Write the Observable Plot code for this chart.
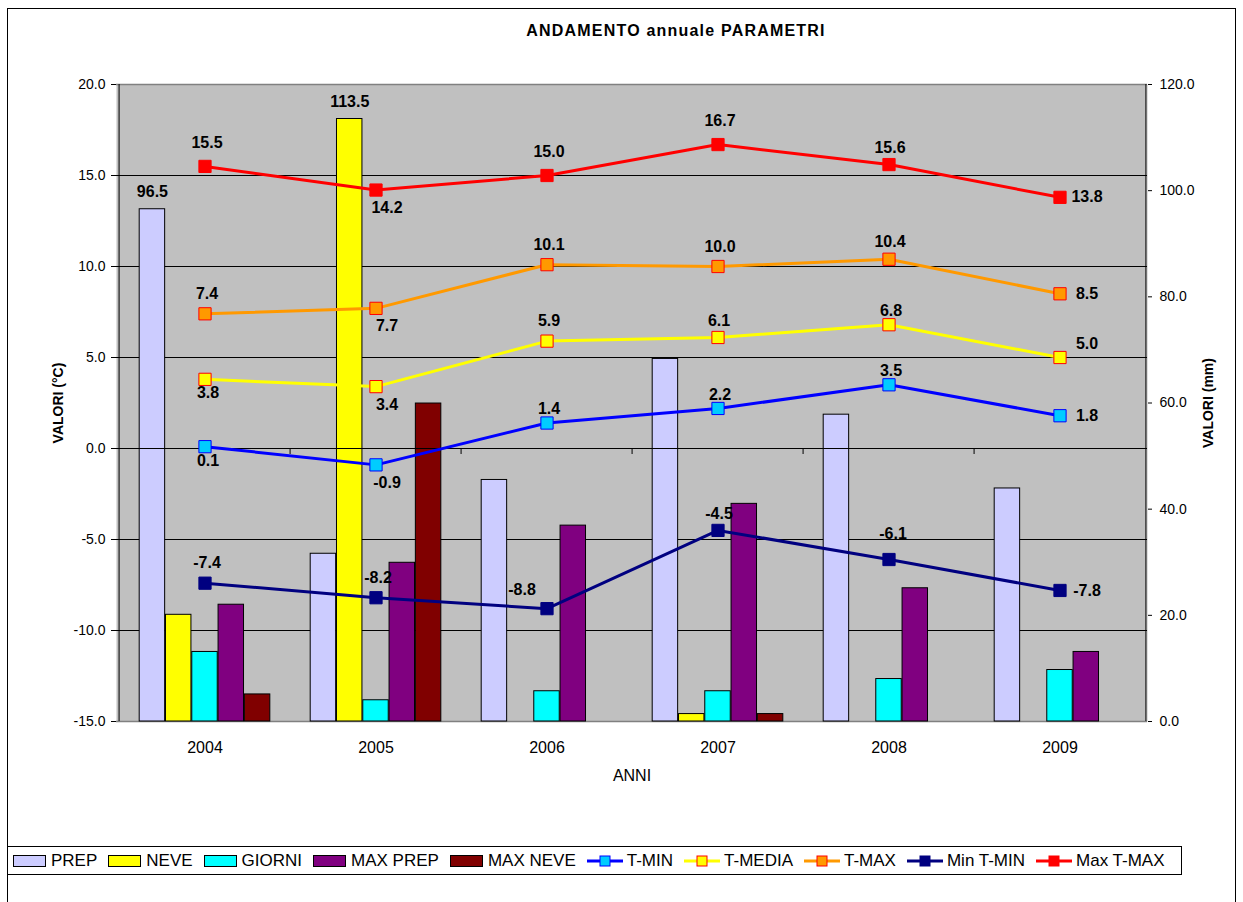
<!DOCTYPE html>
<html>
<head>
<meta charset="utf-8">
<script src="https://cdn.jsdelivr.net/npm/d3@7"></script>
<script src="https://cdn.jsdelivr.net/npm/@observablehq/plot@0.6"></script>
<style>
html, body { margin:0; padding:0; width:1243px; height:902px; overflow:hidden; background:#fff;
  font-family:"Liberation Sans", Arial, sans-serif; color:#000; }
#border { position:absolute; left:7px; top:8px; width:1227px; height:920px; border:1px solid #000; }
#title { position:absolute; left:476px; width:400px; top:21px; text-align:center; font-weight:bold;
  font-size:16px; letter-spacing:1.2px; line-height:20px; }
#chart { position:absolute; left:0; top:50px; }
#legend { position:absolute; left:7px; top:846px; width:1175px; height:29px; border:1px solid #000;
  box-sizing:border-box; display:flex; align-items:center; padding-left:5px; font-size:17px; white-space:nowrap; }
.item { display:flex; align-items:center; margin-right:11px; }
.sw { width:31px; height:10px; border:1px solid #000; margin-right:5px; }
.ln { margin-right:4px; }
</style>
</head>
<body>
<div id="border"></div>
<div id="title">ANDAMENTO annuale PARAMETRI</div>
<div id="chart"></div>
<div id="legend"></div>
<script>
// ---- data ----
const years = ["2004", "2005", "2006", "2007", "2008", "2009"];
// bar series (mm, right axis)
const prep    = [96.5, 31.6, 45.5, 68.3, 57.8, 43.9];
const neve    = [20.1, 113.5, 0, 1.4, 0, 0];
const giorni  = [13.1, 4.0, 5.7, 5.7, 8.0, 9.7];
const maxPrep = [22.0, 29.9, 36.9, 41.0, 25.1, 13.1];
const maxNeve = [5.1, 59.9, 0, 1.4, 0, 0];
// line series (°C, left axis)
const tMin    = [0.1, -0.9, 1.4, 2.2, 3.5, 1.8];
const tMedia  = [3.8, 3.4, 5.9, 6.1, 6.8, 5.0];
const tMax    = [7.4, 7.7, 10.1, 10.0, 10.4, 8.5];
const minTMin = [-7.4, -8.2, -8.8, -4.5, -6.1, -7.8];
const maxTMax = [15.5, 14.2, 15.0, 16.7, 15.6, 13.8];
// axis ticks
const leftTicks = [-15, -10, -5, 0, 5, 10, 15, 20];
const rightTicks = [0, 20, 40, 60, 80, 100, 120];
// labelled bars: [series index, year]
const barLabelPoints = [[0, "2004"], [1, "2005"]];
// label placement codes per line series
const placeTMin    = ["b", "br", "t14", "t14", "t14", "r"];
const placeTMedia  = ["b", "br", "t20", "t17", "t14", "tr"];
const placeTMax    = ["t20", "br", "t20", "t20", "t17", "r"];
const placeMinTMin = ["t20", "t20", "tl", "t17", "t26", "r"];
const placeMaxTMax = ["t24", "br", "t24", "t24", "t17", "r"];

// ---- layout / style ----
const W = 1243, H = 770, ML = 116, MR = 96, MT = 34, MB = 99;
const labelOffsets = {
  t14: [2, -14], t17: [1, -17], t20: [2, -20], t24: [2, -24], t26: [4, -26],
  b: [3, 14], br: [11, 18], r: [27, 0], tr: [27, -14], tl: [-25, -19]
};
const cMin = -15, cMax = 20, mmMax = 120;
const toC = mm => cMin + mm * (cMax - cMin) / mmMax;
const fromC = c => (c - cMin) * mmMax / (cMax - cMin);

const barSeries = [
  {name: "PREP", values: prep, fill: "#CCCCFF"},
  {name: "NEVE", values: neve, fill: "#FFFF00"},
  {name: "GIORNI", values: giorni, fill: "#00FFFF"},
  {name: "MAX PREP", values: maxPrep, fill: "#800080"},
  {name: "MAX NEVE", values: maxNeve, fill: "#800000"}
];
const lineSeries = [
  {name: "T-MIN", values: tMin, line: "#0000FF", fill: "#00CCFF", mstroke: "#0000FF", place: placeTMin},
  {name: "T-MEDIA", values: tMedia, line: "#FFFF00", fill: "#FFFF00", mstroke: "#FF0000", place: placeTMedia},
  {name: "T-MAX", values: tMax, line: "#FF9900", fill: "#FF9900", mstroke: "#FF0000", place: placeTMax},
  {name: "Min T-MIN", values: minTMin, line: "#000080", fill: "#000080", mstroke: "#000080", place: placeMinTMin},
  {name: "Max T-MAX", values: maxTMax, line: "#FF0000", fill: "#FF0000", mstroke: "#FF0000", place: placeMaxTMax}
];

const band = (W - ML - MR) / years.length;
const barW = band * 0.153;
const pad = (band - barSeries.length * barW) / 2;

const marks = [];
marks.push(Plot.frame({fill: "#C0C0C0", stroke: "none"}));
marks.push(Plot.ruleY(leftTicks.filter(v => v > cMin && v < cMax), {stroke: "#000", strokeWidth: 1}));
marks.push(Plot.ruleY([cMin, cMax], {stroke: "#808080", strokeWidth: 1.5}));

barSeries.forEach((s, i) => {
  const rows = years.map((y, j) => ({year: y, v: s.values[j]})).filter(d => d.v > 0);
  marks.push(Plot.barY(rows, {
    x: "year", y1: () => cMin, y2: d => toC(d.v),
    fill: s.fill, stroke: "#000", strokeWidth: 1,
    insetLeft: pad + i * barW, insetRight: band - pad - (i + 1) * barW
  }));
});

// category axis crossing at 0 with tick marks at category boundaries
marks.push(Plot.ruleY([0], {stroke: "#000", strokeWidth: 1}));
marks.push(Plot.ruleX(years.slice(1), {x: d => d, y1: () => 0, y2: () => 0, insetBottom: -6, dx: -band / 2, stroke: "#000"}));
// value axis lines
marks.push(Plot.ruleX([years[0]], {x: d => d, dx: -band / 2, stroke: "#000"}));
marks.push(Plot.ruleX([years[years.length - 1]], {x: d => d, dx: band / 2, stroke: "#000"}));

// lines + markers
lineSeries.forEach(s => {
  const rows = years.map((y, j) => ({year: y, v: s.values[j]}));
  marks.push(Plot.line(rows, {x: "year", y: "v", stroke: s.line, strokeWidth: 3}));
});
lineSeries.forEach(s => {
  const rows = years.map((y, j) => ({year: y, v: s.values[j]}));
  marks.push(Plot.dot(rows, {x: "year", y: "v", symbol: "square", r: 6.9, fill: s.fill, stroke: s.mstroke, strokeWidth: 1}));
});
// data labels
lineSeries.forEach(s => {
  const rows = years.map((y, j) => ({year: y, v: s.values[j], p: s.place[j]}));
  Object.entries(labelOffsets).forEach(([code, [dx, dy]]) => {
    const sub = rows.filter(d => d.p === code);
    if (sub.length) marks.push(Plot.text(sub, {
      x: "year", y: "v", text: d => d.v.toFixed(1), dx, dy,
      fontWeight: "bold", fontSize: 16, fill: "#000"
    }));
  });
});
barLabelPoints.forEach(([i, yr]) => {
  const j = years.indexOf(yr);
  const v = barSeries[i].values[j];
  marks.push(Plot.text([{year: yr, v}], {
    x: "year", y: d => toC(d.v), text: d => d.v.toFixed(1),
    dx: pad + (i + 0.5) * barW - band / 2, dy: -17,
    fontWeight: "bold", fontSize: 16, fill: "#000"
  }));
});

// axes
marks.push(Plot.axisY({anchor: "left", ticks: leftTicks, tickFormat: d => d.toFixed(1),
  tickSize: 5, tickPadding: 6, fontSize: 14, label: null}));
marks.push(Plot.axisY({anchor: "right", ticks: rightTicks.map(toC), tickFormat: d => fromC(d).toFixed(1),
  tickSize: 4, tickPadding: 8, fontSize: 14, label: null}));
marks.push(Plot.axisX({tickSize: 0, tickPadding: 20, fontSize: 16, label: null}));
marks.push(Plot.text(["VALORI (°C)"], {text: d => d, frameAnchor: "left", dx: -58, rotate: -90,
  textAnchor: "middle", lineAnchor: "middle", fontWeight: "bold", fontSize: 14}));
marks.push(Plot.text(["VALORI (mm)"], {text: d => d, frameAnchor: "right", dx: 61, rotate: -90,
  textAnchor: "middle", lineAnchor: "middle", fontWeight: "bold", fontSize: 14}));
marks.push(Plot.text(["ANNI"], {text: d => d, frameAnchor: "bottom", dy: 54,
  textAnchor: "middle", lineAnchor: "middle", fontSize: 16}));

const chart = Plot.plot({
  width: W, height: H, marginLeft: ML, marginRight: MR, marginTop: MT, marginBottom: MB,
  x: {type: "band", domain: years, padding: 0},
  y: {domain: [cMin, cMax]},
  style: {fontFamily: "'Liberation Sans', Arial, sans-serif", background: "transparent", color: "#000"},
  marks
});
document.getElementById("chart").appendChild(chart);

// legend
const legend = document.getElementById("legend");
barSeries.forEach(s => {
  const it = document.createElement("div"); it.className = "item";
  it.innerHTML = `<div class="sw" style="background:${s.fill}"></div><span>${s.name}</span>`;
  legend.appendChild(it);
});
lineSeries.forEach(s => {
  const it = document.createElement("div"); it.className = "item";
  it.innerHTML = `<svg class="ln" width="36" height="14"><line x1="0" x2="36" y1="7" y2="7" stroke="${s.line}" stroke-width="3"/>` +
    `<rect x="13" y="2" width="10" height="10" fill="${s.fill}" stroke="${s.mstroke}" stroke-width="1"/></svg><span>${s.name}</span>`;
  legend.appendChild(it);
});
</script>
</body>
</html>
